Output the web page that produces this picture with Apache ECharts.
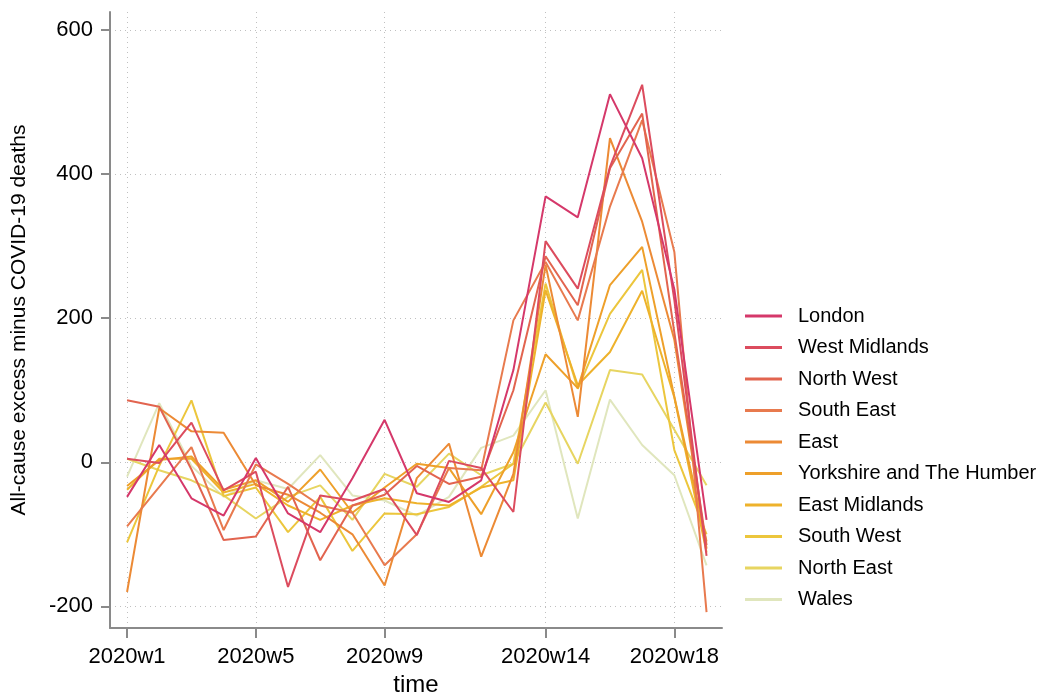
<!DOCTYPE html>
<html>
<head>
<meta charset="utf-8">
<script src="https://cdn.jsdelivr.net/npm/echarts@6/dist/echarts.min.js"></script>
<style>
    html, body {margin: 0; padding: 0; background: #fff;}
    #main {width: 1047px; height: 698px;}
</style>
</head>
<body>
<div id="main"></div>
<script>
    // weeks 2020w1 .. 2020w19
    var weeks = [1, 2, 3, 4, 5, 6, 7, 8, 9, 10, 11, 12, 13, 14, 15, 16, 17, 18, 19];
    var weekTicks = [1, 5, 9, 14, 18];
    var yTicks = [-200, 0, 200, 400, 600];

    var regions = ['London', 'West Midlands', 'North West', 'South East', 'East',
        'Yorkshire and The Humber', 'East Midlands', 'South West', 'North East', 'Wales'];

    var london       = [-48, 24, -50, -74, 6, -71, -97, -22, 59, -43, -55, -25, 128, 369, 340, 511, 422, 240, -80];
    var westMidlands = [5, -1, 55, -39, -13, -173, -46, -53, -37, -101, 2, -8, -69, 307, 241, 410, 524, 225, -130];
    var northWest    = [86, 77, -10, -108, -103, -34, -136, -60, -45, -5, -30, -20, 100, 286, 218, 408, 484, 180, -115];
    var southEast    = [-89, -34, 21, -94, -3, -30, -60, -70, -143, -100, -8, -11, 197, 278, 197, 355, 475, 292, -208];
    var east         = [-180, 75, 43, 41, -32, -45, -70, -100, -171, -22, 26, -131, -16, 274, 63, 450, 334, 170, -120];
    var yorkshire    = [-33, 3, 8, -38, -25, -55, -10, -70, -35, -2, -8, -72, 14, 150, 103, 246, 299, 91, -110];
    var eastMidlands = [-38, 5, 5, -42, -30, -60, -80, -60, -50, -57, -60, -35, -25, 239, 107, 153, 238, 90, -125];
    var southWest    = [-111, -5, 86, -47, -35, -97, -48, -123, -71, -72, -62, -34, -2, 248, 102, 206, 267, 17, -100];
    var northEast    = [5, -11, -25, -46, -78, -48, -32, -80, -16, -34, 12, -18, -2, 83, -2, 128, 122, 45, -32];
    var wales        = [-20, 82, -5, -48, -25, -37, 10, -46, -53, -74, -48, 20, 37, 100, -78, 87, 24, -18, -143];

    var values = [london, westMidlands, northWest, southEast, east, yorkshire, eastMidlands, southWest, northEast, wales];
    var colors = ['#d5386a', '#dc4c5e', '#e2644f', '#e87a4e', '#ec8a35',
        '#eea02a', '#eeb22b', '#ecc63c', '#e7d561', '#e0e6bd'];

    var font = 'Liberation Sans, Arial, sans-serif';
    var axisGrey = '#8a8a8a';

    var series = [];
    for (var i = 0; i < regions.length; i++) {
        var pts = [];
        for (var j = 0; j < weeks.length; j++) {
            pts.push([weeks[j], values[i][j]]);
        }
        series.push({
            name: regions[i],
            type: 'line',
            data: pts,
            symbol: 'none',
            showSymbol: false,
            lineStyle: {width: 2, color: colors[i]},
            itemStyle: {color: colors[i]},
            z: 20 - i
        });
    }

    var myChart = echarts.init(document.getElementById('main'));
    var option = {
        animation: false,
        backgroundColor: '#fff',
        textStyle: {fontFamily: font, color: '#000'},
        grid: {left: 110, right: 325, top: 12, bottom: 70, containLabel: false, outerBoundsMode: 'none'},
        legend: {
            orient: 'vertical',
            left: 740,
            top: 301,
            icon: 'rect',
            itemWidth: 37,
            itemHeight: 3,
            itemGap: 11.5,
            textStyle: {fontSize: 20, lineHeight: 20, color: '#000', fontFamily: font, padding: [0, 0, 0, 11]},
            data: regions
        },
        xAxis: {
            type: 'value',
            min: 0.47,
            max: 19.48,
            name: 'time',
            nameLocation: 'middle',
            nameGap: 45,
            nameTextStyle: {fontSize: 24, color: '#000', fontFamily: font},
            axisLine: {onZero: false, lineStyle: {color: axisGrey, width: 2}},
            axisTick: {show: true, length: 10, customValues: weekTicks, lineStyle: {color: axisGrey, width: 2}},
            axisLabel: {
                customValues: weekTicks,
                fontSize: 22,
                color: '#000',
                margin: 18,
                formatter: function (v) { return '2020w' + v; }
            },
            splitLine: {show: true, lineStyle: {color: '#c0c0c0', type: [1, 4], width: 1}}
        },
        yAxis: {
            type: 'value',
            min: -230,
            max: 625,
            name: 'All-cause excess minus COVID-19 deaths',
            nameLocation: 'middle',
            nameGap: 80,
            nameTextStyle: {fontSize: 21, color: '#000', fontFamily: font},
            axisLine: {show: true, onZero: false, lineStyle: {color: axisGrey, width: 2}},
            axisTick: {show: true, length: 9, customValues: yTicks, lineStyle: {color: axisGrey, width: 2}},
            axisLabel: {customValues: yTicks, fontSize: 22, color: '#000', margin: 17},
            splitLine: {show: true, lineStyle: {color: '#c0c0c0', type: [1, 4], width: 1}}
        },
        series: series
    };
    myChart.setOption(option);
</script>
</body>
</html>
